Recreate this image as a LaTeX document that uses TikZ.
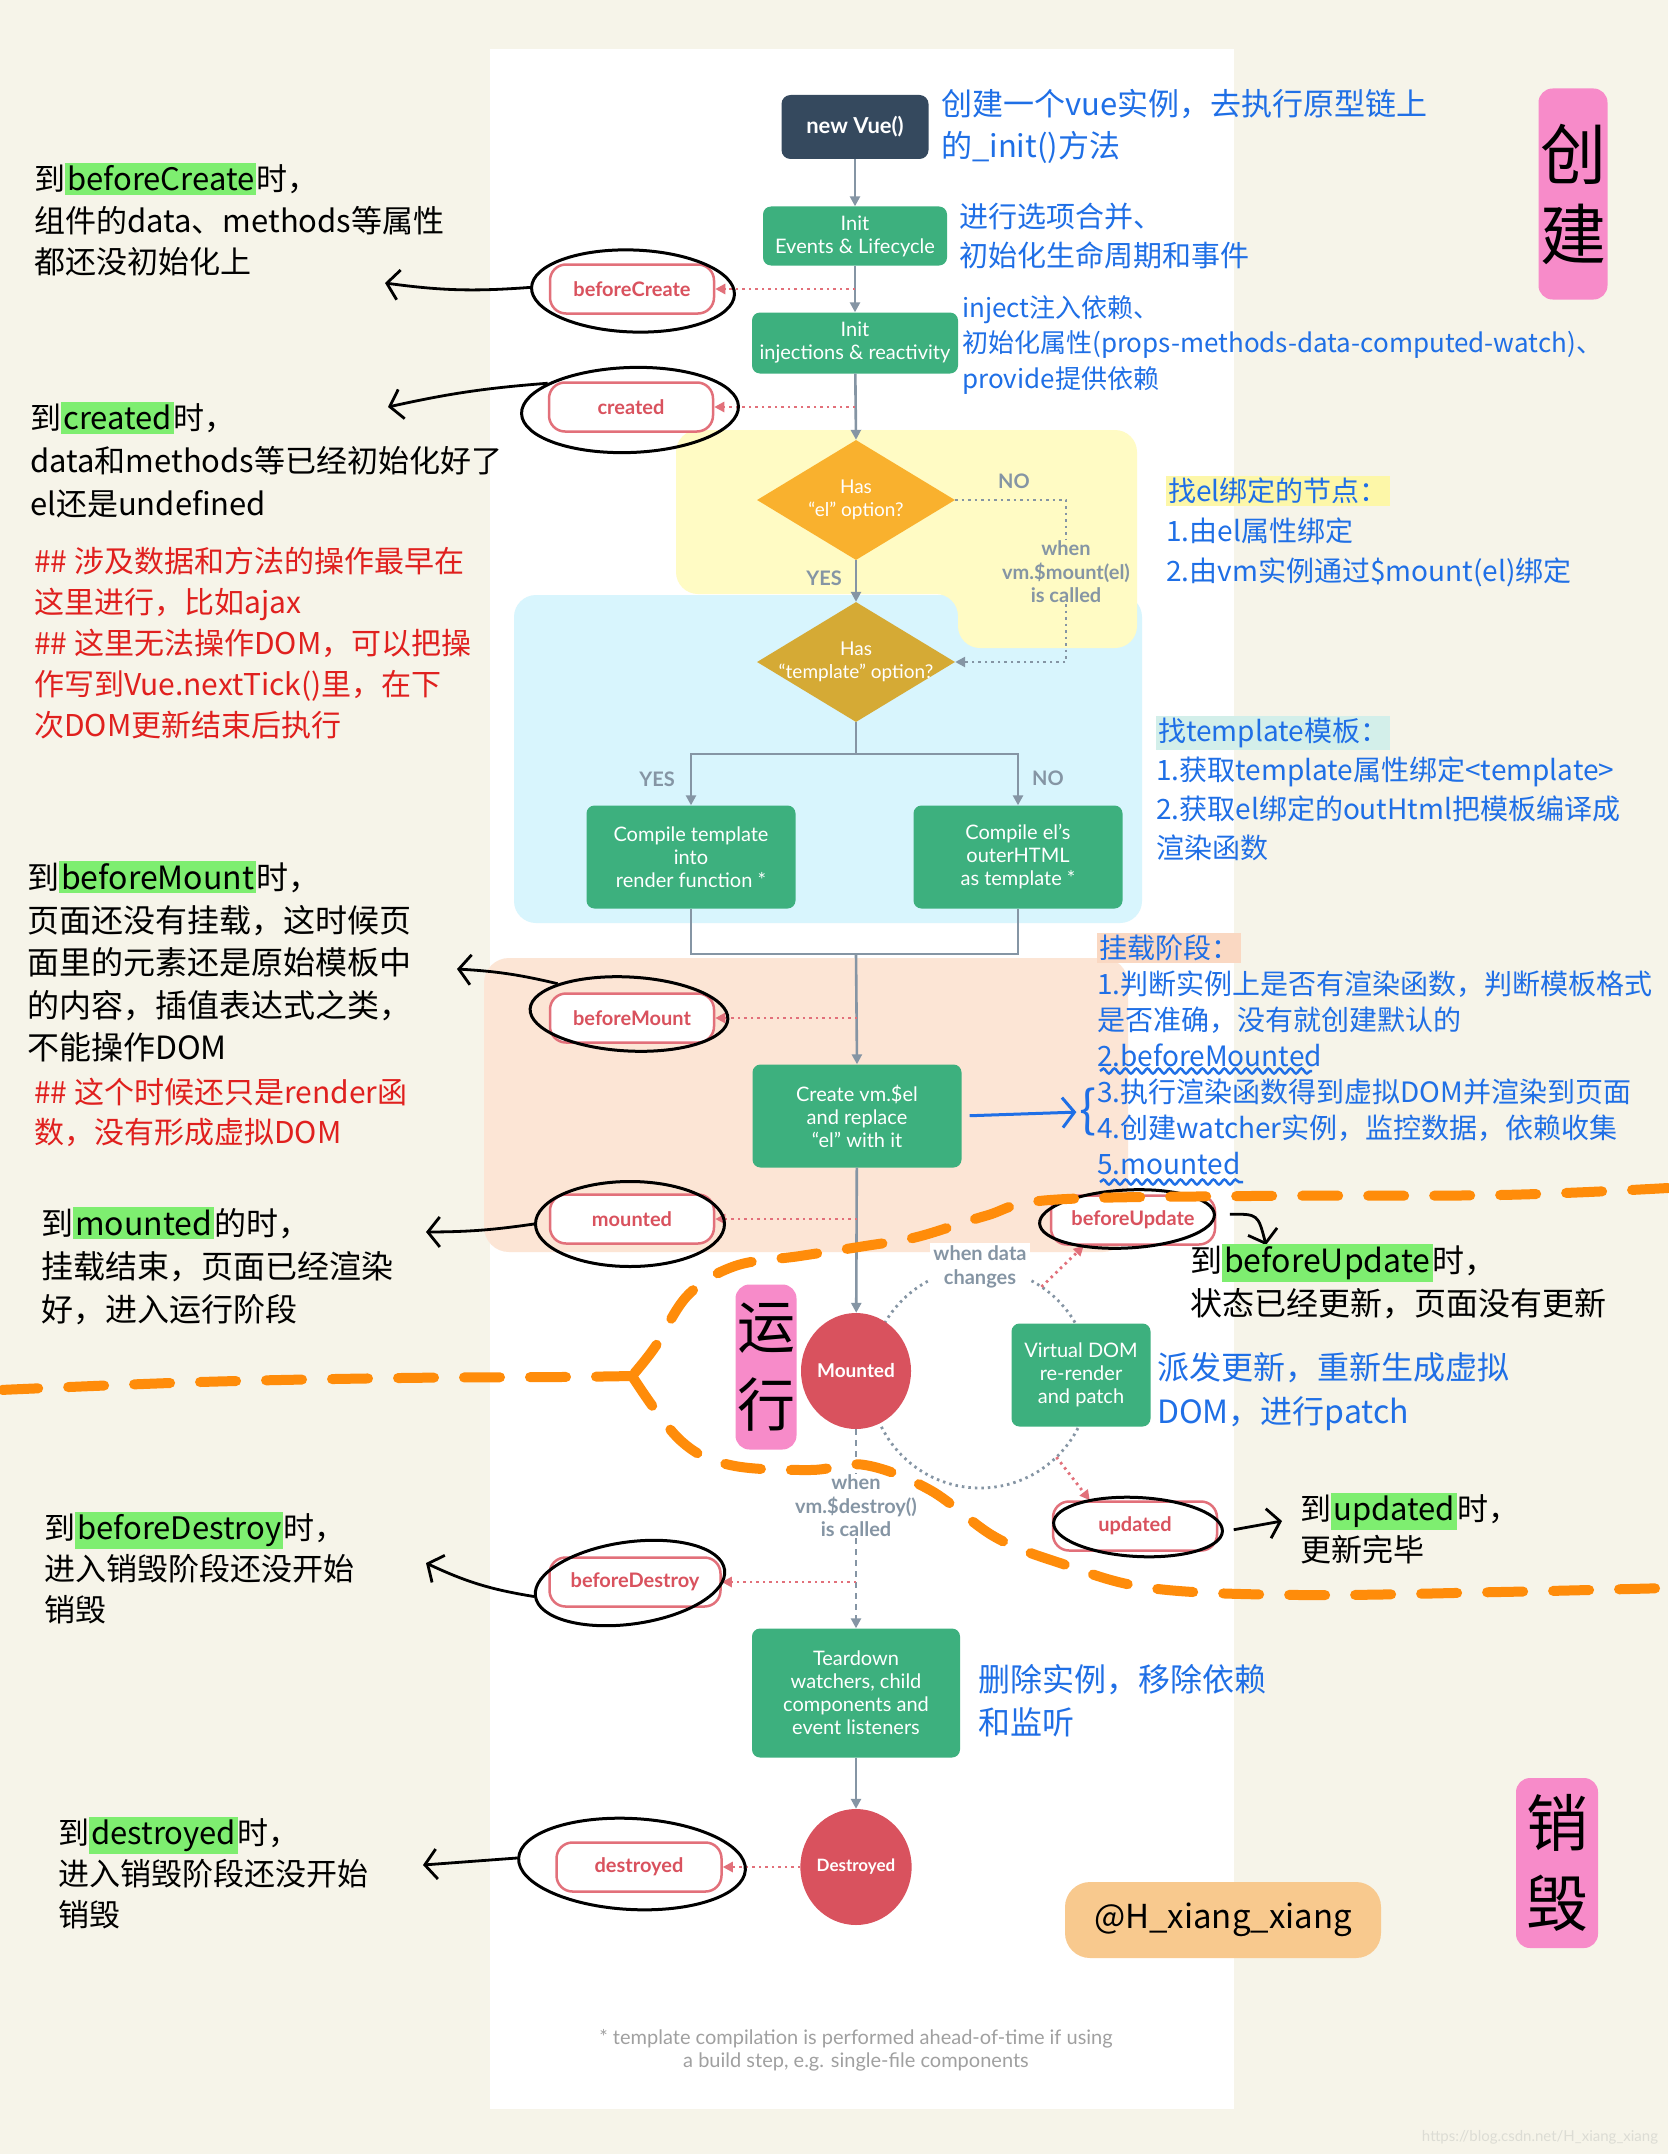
\documentclass[tikz,border=0pt]{standalone}
\usepackage{fontspec}
\setmainfont{Lato}
\newfontfamily\cjk{Noto Sans CJK SC}
\usetikzlibrary{arrows.meta,shapes.geometric,calc,decorations.pathmorphing}
\definecolor{bgc}{HTML}{F6F4E9}
\definecolor{vdark}{HTML}{35495E}
\definecolor{vgreen}{HTML}{3DB07E}
\definecolor{dia1}{HTML}{F9B12E}
\definecolor{dia2}{HTML}{D5AA35}
\definecolor{vred}{HTML}{D9525E}
\definecolor{pillc}{HTML}{E2707A}
\definecolor{cgray}{HTML}{8595A4}
\definecolor{ylw}{HTML}{FFFBC4}
\definecolor{lblue}{HTML}{D8F5FD}
\definecolor{peach}{HTML}{FCE5D5}
\definecolor{hlg}{HTML}{7EEE70}
\definecolor{pinkc}{HTML}{F78BC9}
\definecolor{orng}{HTML}{FF8C0A}
\definecolor{hblue}{HTML}{1F6FE6}
\definecolor{hred}{HTML}{E0201E}
\definecolor{hyel}{HTML}{FDF7A8}
\definecolor{hteal}{HTML}{D3EFEA}
\definecolor{hpeach}{HTML}{FAD8C2}
\definecolor{wmc}{HTML}{F8C98E}
\definecolor{fng}{HTML}{A0A0A0}
\definecolor{urlc}{HTML}{DCDCD4}
\newcommand{\hlc}[2]{{\setlength{\fboxsep}{2pt}\colorbox{#1}{\vphantom{到}#2}}}
\begin{document}
\begin{tikzpicture}[x=1pt,y=-1pt,
  conn/.style={draw=cgray, line width=2.6pt},
  arr/.style={-{Triangle[length=10pt,width=10pt]}},
  greenbox/.style={rectangle, rounded corners=8pt, fill=vgreen, text=white, font=\fontsize{20}{23}\selectfont, align=center, inner sep=3pt},
  pill/.style={rectangle, rounded corners=16pt, draw=pillc, line width=2.5pt, fill=white, text=vred, font=\bfseries\fontsize{20}{22}\selectfont, minimum width=164pt, minimum height=49pt},
  reddot/.style={draw=pillc, line width=2.8pt, dash pattern=on 2.5pt off 4pt},
  graydot/.style={draw=cgray, line width=2.8pt, dash pattern=on 2.5pt off 4pt},
  graydash/.style={draw=cgray, line width=2.4pt, dash pattern=on 6pt off 5pt},
  graylbl/.style={text=cgray, font=\bfseries\fontsize{20}{23.5}\selectfont, align=center, inner sep=1pt},
  handel/.style={ellipse, draw=black, line width=3pt},
  harr/.style={draw=black, line width=2.8pt, -{Straight Barb[length=12pt,width=30pt]}},
  ann/.style={anchor=north west, inner sep=0pt, align=left},
  orangedash/.style={draw=orng, line width=10pt, line cap=round, dash pattern=on 36pt off 30pt},
  pinklbl/.style={fill=pinkc, rounded corners=14pt, align=center, inner sep=0pt}
]
\useasboundingbox (0,0) rectangle (1668,2154);
\fill[bgc] (0,0) rectangle (1668,2154);
\fill[white] (490,49) rectangle (1234,2109);
% regions
\fill[lblue, rounded corners=22pt] (514,595) rectangle (1142,923);
\fill[ylw, rounded corners=22pt] (676,430) -- (1137,430) -- (1137,648) -- (958,648) -- (958,594) -- (676,594) -- cycle;
\fill[peach, rounded corners=25pt] (484,958) rectangle (1128,1252);

% ---- main flow nodes
\node[rectangle, rounded corners=9pt, fill=vdark, text=white, font=\bfseries\fontsize{22}{26}\selectfont, minimum width=147pt, minimum height=64pt] (nv) at (855,127) {new Vue()};
\node[greenbox, minimum width=184pt, minimum height=59pt] (ie) at (855,236) {Init\\Events \& Lifecycle};
\node[greenbox, minimum width=206pt, minimum height=61pt] (ii) at (855,343) {Init\\injections \& reactivity};
\node[pill] (bc) at (632,289) {beforeCreate};
\node[pill] (cr) at (631,407) {created};
\node[diamond, fill=dia1, minimum width=198pt, minimum height=120pt, inner sep=0pt] (d1) at (856,500) {};
\node[text=white, font=\fontsize{19}{23}\selectfont, align=center] (d1t) at (d1) {Has\\``el'' option?};
\node[diamond, fill=dia2, minimum width=198pt, minimum height=120pt, inner sep=0pt] (d2) at (856,662) {};
\node[text=white, font=\fontsize{19}{23}\selectfont, align=center] (d2t) at (d2) {Has\\``template'' option?};
\node[graylbl] (no1) at (1014,481) {NO};
\node[graylbl] (yes1) at (824,578) {YES};
\node[graylbl] (wm) at (1066,572) {when\\vm.\$mount(el)\\is called};
\node[graylbl] (yes2) at (657,779) {YES};
\node[graylbl] (no2) at (1048,778) {NO};
\node[greenbox, minimum width=209pt, minimum height=103pt] (ct) at (691,857) {Compile template\\into\\render function *};
\node[greenbox, minimum width=209pt, minimum height=103pt] (ce) at (1018,857) {Compile el's\\outerHTML\\as template *};
\node[pill] (bm) at (632,1018) {beforeMount};
\node[greenbox, minimum width=209pt, minimum height=103pt] (cv) at (857,1116) {Create vm.\$el\\and replace\\``el'' with it};
\node[pill] (mt) at (632,1219) {mounted};

% update cycle
\coordinate (arcc) at (980,1378);
\draw[graydot] (arcc) circle[radius=110];
\node[ellipse, fill=vred, text=white, font=\bfseries\fontsize{19}{22}\selectfont, minimum width=102pt, minimum height=116pt, inner sep=0pt] (mo) at (856,1371) {Mounted};
\node[graylbl, fill=white, inner sep=3pt] (wd) at (980,1267) {when data\\changes};
\node[greenbox, minimum width=139pt, minimum height=103pt] (vd) at (1081,1375) {Virtual DOM\\re-render\\and patch};
\node[pill] (bu) at (1133,1220) {beforeUpdate};
\node[pill] (ud) at (1135,1526) {updated};
\coordinate (a1) at ($(arcc)+(-56:110)$);
\coordinate (a2) at ($(arcc)+(46:110)$);

% destroy
\node[graylbl] (wdst) at (856,1506) {when\\vm.\$destroy()\\is called};
\node[pill, minimum width=171pt] (bd) at (635,1582) {beforeDestroy};
\node[greenbox, minimum width=208pt, minimum height=129pt, font=\fontsize{20}{23}\selectfont] (td) at (856,1693) {Teardown\\watchers, child\\components and\\event listeners};
\node[ellipse, fill=vred, text=white, font=\bfseries\fontsize{17}{20}\selectfont, minimum width=102pt, minimum height=116pt, inner sep=0pt] (ds) at (856,1867) {Destroyed};
\node[pill, minimum width=165pt] (dy) at (639,1867) {destroyed};
\node[text=fng, font=\fontsize{20}{23}\selectfont, align=center] (fn) at (856,2050) {* template compilation is performed ahead-of-time if using\\a build step, e.g. single-file components};

% ---- connectors
\draw[conn,arr] (nv) -- (ie);
\draw[conn,arr] (ie) -- (ii);
\draw[conn,arr] (ii) -- (d1.north);
\draw[conn,arr] (d1.south) -- (d2.north);
\draw[graydot] (d1.east) -| (wm.north);
\draw[graydot,arr] (wm.south) |- (d2.east);
\coordinate (jn) at (856,754);
\draw[conn] (d2.south) -- (jn);
\draw[conn,arr] (jn) -| (ct.north);
\draw[conn,arr] (jn) -| (ce.north);
\coordinate (jb) at (856,954);
\draw[conn] (ct.south) |- (jb) -| (ce.south);
\draw[conn,arr] (jb) -- (cv.north);
\draw[conn,arr] (cv) -- (mo);
\draw[graydash] (mo.south) -- (wdst.north);
\draw[graydash,arr] (wdst.south) -- (td.north);
\draw[conn,arr] (td) -- (ds);
\draw[reddot,arr] (ie.south |- bc.east) -- (bc.east);
\draw[reddot,arr] (ii.south |- cr.east) -- (cr.east);
\draw[reddot,arr] (cv.north |- bm.east) -- (bm.east);
\draw[reddot,arr] (cv.south |- mt.east) -- (mt.east);
\draw[reddot,arr] (td.north |- bd.east) -- (bd.east);
\draw[reddot,arr] (ds.west) -- (dy.east);
\draw[reddot,arr] (a1) -- ($(bu.south west)+(34,0)$);
\draw[reddot,arr] (a2) -- ($(ud.north west)+(38,0)$);

% ---- hand-drawn ellipses
\node[handel, minimum width=203pt, minimum height=82pt, rotate=-2] (eBC) at (633,291) {};
\node[handel, minimum width=217pt, minimum height=85pt, rotate=2] (eCR) at (630,410) {};
\node[handel, minimum width=198pt, minimum height=74pt, rotate=-3] (eBM) at (629,1014) {};
\node[handel, minimum width=189pt, minimum height=85pt] (eMT) at (630,1224) {};
\node[handel, minimum width=175pt, minimum height=58pt, rotate=3] (eBU) at (1127,1219) {};
\node[handel, minimum width=169pt, minimum height=59pt, rotate=-3] (eUD) at (1138,1527) {};
\node[handel, minimum width=191pt, minimum height=82pt, rotate=8] (eBD) at (630,1583) {};
\node[handel, minimum width=227pt, minimum height=91pt, rotate=-3] (eDY) at (632,1864) {};
\coordinate (tBC) at (385,283);
\coordinate (tCR) at (388,407);
\coordinate (tBM) at (457,969);
\coordinate (tMT) at (426,1232);
\coordinate (tBU) at (1266,1245);
\coordinate (tUD) at (1282,1521);
\coordinate (tBD) at (426,1563);
\coordinate (tDY) at (423,1865);
\draw[harr] (eBC.west) to[bend left=6] (tBC);
\draw[harr] (eCR.160) to[bend right=4] (tCR);
\draw[harr] (eBM.160) to[bend right=5] (tBM);
\draw[harr] (eMT.west) to[bend left=4] (tMT);
\draw[harr, shorten <=14pt] (eBU.east) .. controls (1258,1214) .. (tBU);
\draw[harr, shorten <=10pt] (eUD.east) -- (tUD);
\draw[harr] (eBD.west) to[bend left=8] (tBD);
\draw[harr] (eDY.west) -- (tDY);

% ---- orange dashed phase boundaries
\draw[orangedash] plot[smooth, tension=0.6] coordinates {(1668,1188) (1500,1195) (1250,1196) (1050,1200) (985,1216) (917,1237) (865,1246) (800,1256) (735,1266) (688,1295) (655,1347) (632,1376)};
\draw[orangedash] plot[smooth, tension=0.6] coordinates {(632,1376) (560,1377) (400,1378) (200,1382) (0,1390)};
\draw[orangedash] plot[smooth, tension=0.6] coordinates {(632,1376) (680,1440) (730,1465) (810,1470) (865,1465) (930,1490) (995,1537) (1060,1563) (1150,1588) (1300,1595) (1500,1592) (1668,1588)};

% ---- pink stage labels
\node[pinklbl, minimum width=69pt, minimum height=211pt, font=\cjk\fontsize{66}{80}\selectfont] (pk1) at (1573,194) {创\\建};
\node[pinklbl, minimum width=82pt, minimum height=170pt, font=\cjk\fontsize{62}{80}\selectfont] (pk2) at (1557,1863) {销\\毁};
\node[pinklbl, minimum width=61pt, minimum height=165pt, font=\cjk\fontsize{58}{78}\selectfont] (pk3) at (766,1367) {运\\行};
\node[fill=wmc, rounded corners=25pt, minimum width=316pt, minimum height=76pt, font=\cjk\fontsize{33}{40}\selectfont] (wmk) at (1223,1920) {@H\_xiang\_xiang};
\node[text=urlc, font=\fontsize{15}{18}\selectfont] (url) at (1540,2137) {https://blog.csdn.net/H\_xiang\_xiang};

% ---- black annotations
\node[ann, font=\cjk\fontsize{31}{41.5}\selectfont] (nBC) at (34,163) {到\hlc{hlg}{beforeCreate}时，\\组件的data、methods等属性\\都还没初始化上};
\node[ann, font=\cjk\fontsize{31}{43}\selectfont] (nCR) at (30,402) {到\hlc{hlg}{created}时，\\data和methods等已经初始化好了\\el还是undefined};
\node[ann, text=hred, font=\cjk\fontsize{30}{41}\selectfont] (nR1) at (34,547) {\#\# 涉及数据和方法的操作最早在\\这里进行，比如ajax\\\#\# 这里无法操作DOM，可以把操\\作写到Vue.nextTick()里，在下\\次DOM更新结束后执行};
\node[ann, font=\cjk\fontsize{32}{42.5}\selectfont] (nBM) at (27,861) {到\hlc{hlg}{beforeMount}时，\\页面还没有挂载，这时候页\\面里的元素还是原始模板中\\的内容，插值表达式之类，\\不能操作DOM};
\node[ann, text=hred, font=\cjk\fontsize{30}{40}\selectfont] (nR2) at (34,1078) {\#\# 这个时候还只是render函\\数，没有形成虚拟DOM};
\node[ann, font=\cjk\fontsize{32}{43}\selectfont] (nMT) at (41,1207) {到\hlc{hlg}{mounted}的时，\\挂载结束，页面已经渲染\\好，进入运行阶段};
\node[ann, font=\cjk\fontsize{32}{43}\selectfont] (nBU) at (1190,1244) {到\hlc{hlg}{beforeUpdate}时，\\状态已经更新，页面没有更新};
\node[ann, font=\cjk\fontsize{31}{41}\selectfont] (nUD) at (1300,1493) {到\hlc{hlg}{updated}时，\\更新完毕};
\node[ann, font=\cjk\fontsize{31}{41}\selectfont] (nBD) at (44,1512) {到\hlc{hlg}{beforeDestroy}时，\\进入销毁阶段还没开始\\销毁};
\node[ann, font=\cjk\fontsize{31}{41}\selectfont] (nDY) at (58,1817) {到\hlc{hlg}{destroyed}时，\\进入销毁阶段还没开始\\销毁};

% ---- blue annotations
\node[ann, text=hblue, font=\cjk\fontsize{31}{42}\selectfont] (bNV) at (941,89) {创建一个vue实例，去执行原型链上\\的\_init()方法};
\node[ann, text=hblue, font=\cjk\fontsize{29}{39}\selectfont] (bIE) at (959,203) {进行选项合并、\\初始化生命周期和事件};
\node[ann, text=hblue, font=\cjk\fontsize{26}{35.5}\selectfont] (bII) at (962,295) {inject注入依赖、\\初始化属性(props-methods-data-computed-watch)、\\provide提供依赖};
\node[ann, text=hblue, font=\cjk\fontsize{28}{40}\selectfont] (bEL) at (1166,476) {\hlc{hyel}{找el绑定的节点：}\\ 1.由el属性绑定\\ 2.由vm实例通过\$mount(el)绑定};
\node[ann, text=hblue, font=\cjk\fontsize{28}{39}\selectfont] (bTP) at (1156,716) {\hlc{hteal}{找template模板：}\\1.获取template属性绑定<template>\\2.获取el绑定的outHtml把模板编译成\\渲染函数};
\node[ann, text=hblue, font=\cjk\fontsize{28}{36}\selectfont] (bMS) at (1097,933) {\hlc{hpeach}{挂载阶段：}\\1.判断实例上是否有渲染函数，判断模板格式\\是否准确，没有就创建默认的\\2.beforeMounted\\3.执行渲染函数得到虚拟DOM并渲染到页面\\4.创建watcher实例，监控数据，依赖收集\\5.mounted};
\draw[hblue, line width=2.5pt, decorate, decoration={snake, amplitude=2.5pt, segment length=11pt}] (1100,1071) -- (1312,1071);
\draw[hblue, line width=2.5pt, decorate, decoration={snake, amplitude=2.5pt, segment length=11pt}] (1100,1182) -- (1243,1182);
\node[text=hblue, font=\cjk\fontsize{50}{50}\selectfont, inner sep=0pt] (br) at (1088,1112) {\{};
\draw[hblue, line width=3pt, -{Straight Barb[length=12pt,width=30pt]}, shorten <=8pt, shorten >=3pt] (cv.east) -- (br.west);
\node[ann, text=hblue, font=\cjk\fontsize{32}{44}\selectfont] (bVD) at (1157,1352) {派发更新，重新生成虚拟\\DOM，进行patch};
\node[ann, text=hblue, font=\cjk\fontsize{32}{43}\selectfont] (bTD) at (978,1664) {删除实例，移除依赖\\和监听};
\end{tikzpicture}
\end{document}
